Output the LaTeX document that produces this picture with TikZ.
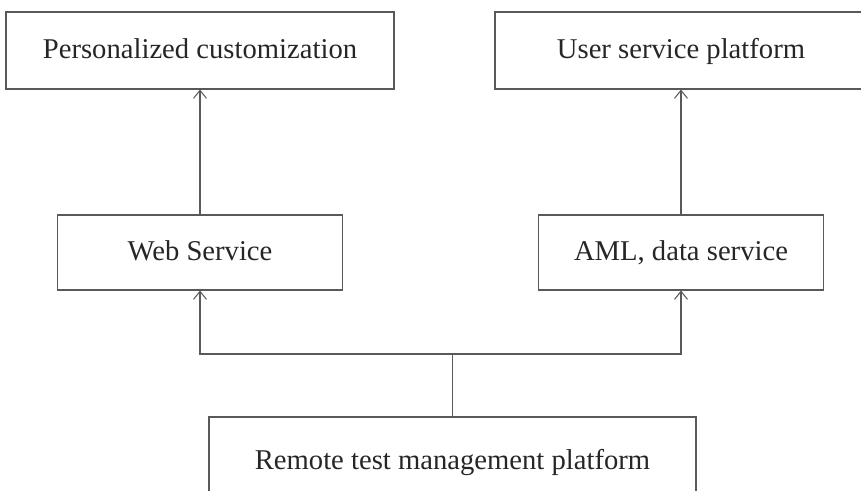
\documentclass[tikz,border=0pt]{standalone}
\usepackage{fontspec}
\setmainfont{Liberation Serif}
\usetikzlibrary{arrows.meta}

\tikzset{
  block/.style={rectangle,draw=black!65,line width=0.6pt,text=black!85,
    font=\fontsize{16.3}{19}\selectfont,inner sep=0pt,
    text height=0.86em,text depth=0pt},
  link/.style={draw=black!65,line width=0.6pt,
    -{Straight Barb[length=1.6mm,width=2.6mm]}},
}

\begin{document}
\begin{tikzpicture}
\clip (0,0) rectangle (17.22,-9.8);
\useasboundingbox (0,0) rectangle (17.22,-9.8);
\path (4.0,-1.01) node[block,minimum width=7.76cm,minimum height=1.54cm] (pers) {Personalized customization};
\path (13.62,-1.01) node[block,minimum width=7.44cm,minimum height=1.54cm] (user) {User service platform};

\path (4.0,-5.05) node[block,minimum width=5.7cm,minimum height=1.5cm] (web) {Web Service};
\path (13.62,-5.05) node[block,minimum width=5.7cm,minimum height=1.5cm] (aml) {AML, data service};
\draw[link] (web) -- (pers);
\draw[link] (aml) -- (user);

\path (9.05,-9.24) node[block,minimum width=9.74cm,minimum height=1.8cm] (remote) {Remote test management platform};
\coordinate (fork) at (9.05,-7.08);
\draw[link,-] (remote) -- (fork);
\draw[link] (fork) -| (web);
\draw[link] (fork) -| (aml);
\end{tikzpicture}
\end{document}
